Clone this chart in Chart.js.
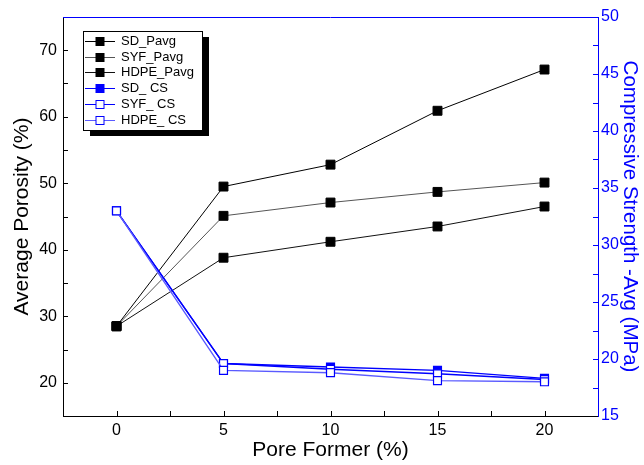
<!DOCTYPE html>
<html>
<head>
<meta charset="utf-8">
<script src="https://cdn.jsdelivr.net/npm/chart.js@4.4.0/dist/chart.umd.min.js"></script>
<style>body{margin:0;background:#fff}</style>
</head>
<body>
<canvas id="c" width="644" height="465"></canvas>
<script>
// data
var poreFormer = [0, 5, 10, 15, 20];
var sdPavg   = [28.5, 49.5, 52.8, 60.9, 67.1];
var syfPavg  = [28.5, 45.1, 47.1, 48.7, 50.1];
var hdpePavg = [28.5, 38.8, 41.2, 43.5, 46.5];
var sdCS   = [33.0, 19.6, 19.3, 19.0, 18.3];
var syfCS  = [33.0, 19.6, 19.1, 18.7, 18.2];
var hdpeCS = [33.0, 19.0, 18.8, 18.1, 18.0];
var formerTicks = [0, 5, 10, 15, 20];
var porosityTicks = [20, 30, 40, 50, 60, 70];
var strengthTicks = [15, 20, 25, 30, 35, 40, 45, 50];

var FONT = '"Liberation Sans", Arial, sans-serif';
var BLUE = '#0000ff';

function pts(ys) {
  return poreFormer.map(function(x, i) { return {x: x, y: ys[i]}; });
}

function blackSeries(label, ys, col) {
  return {
    label: label, data: pts(ys), yAxisID: 'y', order: 3,
    borderColor: col, borderWidth: 1,
    pointStyle: 'rect', pointRadius: 6.3, pointBackgroundColor: '#000',
    pointBorderColor: '#000', pointBorderWidth: 1, fill: false
  };
}
// lower order is drawn on top, so the open squares cover the filled one
function blueSeries(label, ys, col, filled, ord) {
  return {
    label: label, data: pts(ys), yAxisID: 'y1', order: ord,
    borderColor: col, borderWidth: 1.4,
    pointStyle: 'rect', pointRadius: 5.6, pointBackgroundColor: filled ? BLUE : '#fff',
    pointBorderColor: BLUE, pointBorderWidth: 1.2, fill: false
  };
}

// inward tick marks + blue top border, MATLAB style
var tickMarks = {
  id: 'tickMarks',
  afterDatasetsDraw: function(chart) {
    var ctx = chart.ctx, a = chart.chartArea, s = chart.scales;
    ctx.save();
    ctx.lineWidth = 1;
    ctx.strokeStyle = '#000';
    ctx.beginPath();
    s.x.ticks.forEach(function(t) {
      if (t.value <= s.x.min || t.value >= s.x.max) return;
      var px = Math.round(s.x.getPixelForValue(t.value)) + 0.5;
      ctx.moveTo(px, a.bottom); ctx.lineTo(px, a.bottom - 5);
    });
    s.y.ticks.forEach(function(t) {
      if (t.value <= s.y.min || t.value >= s.y.max) return;
      var py = Math.round(s.y.getPixelForValue(t.value)) + 0.5;
      ctx.moveTo(a.left, py); ctx.lineTo(a.left + 5, py);
    });
    ctx.stroke();
    ctx.strokeStyle = BLUE;
    ctx.beginPath();
    s.y1.ticks.forEach(function(t) {
      if (t.value <= s.y1.min || t.value >= s.y1.max) return;
      var py = Math.round(s.y1.getPixelForValue(t.value)) + 0.5;
      ctx.moveTo(a.right, py); ctx.lineTo(a.right - 5, py);
    });
    ctx.moveTo(a.left, Math.round(a.top) + 0.5);
    ctx.lineTo(a.right, Math.round(a.top) + 0.5);
    ctx.stroke();
    ctx.restore();
  }
};

// boxed legend with drop shadow
var boxLegend = {
  id: 'boxLegend',
  afterDraw: function(chart) {
    var ctx = chart.ctx;
    var x0 = 83, y0 = 31, w = 119, h = 99;
    ctx.save();
    ctx.fillStyle = '#000';
    ctx.fillRect(x0 + 7, y0 + 6, w, h);
    ctx.fillStyle = '#fff';
    ctx.fillRect(x0, y0, w, h);
    ctx.strokeStyle = '#000';
    ctx.lineWidth = 1;
    ctx.strokeRect(x0 + 0.5, y0 + 0.5, w, h);
    ctx.font = '13px ' + FONT;
    ctx.textBaseline = 'middle';
    chart.data.datasets.forEach(function(ds, i) {
      var y = Math.round(41 + i * 15.7) + 0.5;
      ctx.strokeStyle = ds.borderColor;
      ctx.lineWidth = 1;
      ctx.beginPath();
      ctx.moveTo(85, y); ctx.lineTo(115, y);
      ctx.stroke();
      ctx.fillStyle = ds.pointBackgroundColor;
      ctx.fillRect(96, y - 4, 8, 8);
      ctx.strokeStyle = ds.pointBorderColor;
      ctx.strokeRect(96, y - 4, 8, 8);
      ctx.fillStyle = '#000';
      ctx.fillText(ds.label, 121, y);
    });
    ctx.restore();
  }
};

new Chart(document.getElementById('c'), {
  type: 'line',
  data: {
    datasets: [
      blackSeries('SD_Pavg', sdPavg, '#000'),
      blackSeries('SYF_Pavg', syfPavg, '#555'),
      blackSeries('HDPE_Pavg', hdpePavg, '#111'),
      blueSeries('SD_ CS', sdCS, BLUE, true, 2),
      blueSeries('SYF_ CS', syfCS, BLUE, false, 1),
      blueSeries('HDPE_ CS', hdpeCS, '#5a5aff', false, 0)
    ]
  },
  options: {
    responsive: false,
    devicePixelRatio: 1,
    animation: false,
    events: [],
    layout: { padding: { top: 17, left: 0, right: 0, bottom: 0 } },
    plugins: { legend: { display: false }, tooltip: { enabled: false } },
    scales: {
      x: {
        type: 'linear', min: -2.5, max: 22.5,
        afterFit: function(sc) { sc.height = 49; },
        grid: { display: false, drawTicks: false },
        border: { display: true, color: '#000', width: 1 },
        ticks: {
          stepSize: 2.5, autoSkip: false, maxRotation: 0, padding: 5,
          color: '#000', font: { family: FONT, size: 16 },
          callback: function(v) { return formerTicks.indexOf(v) >= 0 ? String(v) : ''; }
        },
        title: { display: true, text: 'Pore Former (%)', color: '#000',
          font: { family: FONT, size: 21 }, padding: { top: 0, bottom: 2 } }
      },
      y: {
        type: 'linear', position: 'left', min: 15, max: 75,
        afterFit: function(sc) { sc.width = 63; },
        grid: { display: false, drawTicks: false },
        border: { display: true, color: '#000', width: 1 },
        ticks: {
          stepSize: 5, autoSkip: false, padding: 6,
          color: '#000', font: { family: FONT, size: 16 },
          callback: function(v) { return porosityTicks.indexOf(v) >= 0 ? String(v) : ''; }
        },
        title: { display: true, text: 'Average Porosity (%)', color: '#000',
          font: { family: FONT, size: 21 }, padding: { top: 10, bottom: 0 } }
      },
      y1: {
        type: 'linear', position: 'right', min: 15, max: 50,
        afterFit: function(sc) { sc.width = 46; },
        grid: { display: false, drawTicks: false },
        border: { display: true, color: BLUE, width: 1 },
        ticks: {
          stepSize: 2.5, autoSkip: false, padding: 3,
          color: BLUE, font: { family: FONT, size: 16 },
          callback: function(v) { return strengthTicks.indexOf(v) >= 0 ? String(v) : ''; }
        },
        title: { display: true, text: 'Compressive Strength -Avg (MPa)', color: BLUE,
          font: { family: FONT, size: 20.5 }, padding: { top: 2, bottom: 0 } }
      }
    }
  },
  plugins: [tickMarks, boxLegend]
});
</script>
</body>
</html>
